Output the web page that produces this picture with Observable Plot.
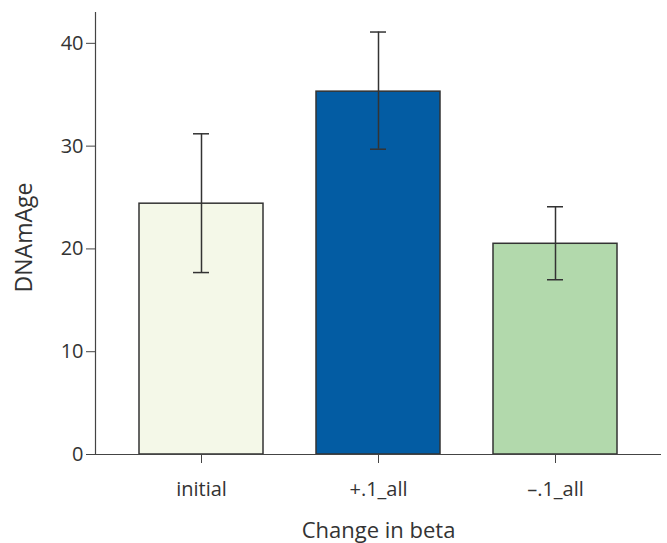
<!DOCTYPE html>
<html>
<head>
<meta charset="utf-8">
<script src="https://cdn.jsdelivr.net/npm/d3@7"></script>
<script src="https://cdn.jsdelivr.net/npm/@observablehq/plot@0.6"></script>
<style>
  html, body { margin: 0; padding: 0; background: #fff; }
  svg { display: block; }
</style>
</head>
<body>
<div id="chart"></div>
<script>
const categories = ["initial", "+.1_all", "\u2013.1_all"];
const means = [24.4, 35.3, 20.5];
const lower = [17.7, 29.7, 17.0];
const upper = [31.2, 41.1, 24.1];
const colors = ["#f4f8e8", "#035ca3", "#b2d9ac"];
const yTicks = [0, 10, 20, 30, 40];

const data = categories.map((c, i) => ({cat: c, mean: means[i], lo: lower[i], hi: upper[i]}));

const font = "'Open Sans', sans-serif";

const chart = Plot.plot({
  width: 667,
  height: 543,
  marginLeft: 95,
  marginRight: 6,
  marginTop: 12,
  marginBottom: 89,
  style: {fontFamily: font, fontSize: "20px", color: "#333", background: "#fff"},
  x: {domain: categories, paddingInner: 0.3, paddingOuter: 0.24, label: null},
  y: {domain: [0, 43], label: null},
  color: {domain: categories, range: colors},
  marks: [
    Plot.barY(data, {x: "cat", y: "mean", fill: "cat", stroke: "#333", strokeWidth: 1.5}),
    Plot.ruleX(data, {x: "cat", y1: "lo", y2: "hi", stroke: "#333", strokeWidth: 1.5}),
    Plot.tickY(data, {x: "cat", y: "lo", stroke: "#333", strokeWidth: 1.5, inset: 54}),
    Plot.tickY(data, {x: "cat", y: "hi", stroke: "#333", strokeWidth: 1.5, inset: 54}),
    Plot.ruleY([0], {stroke: "#444", strokeWidth: 1.2}),
    Plot.frame({anchor: "left", stroke: "#444", strokeWidth: 1.2}),
    Plot.axisY({ticks: yTicks, tickSize: 9, tickPadding: 3, label: null, fontSize: 20, stroke: "#444"}),
    Plot.axisX({tickSize: 9, tickPadding: 18, label: null, fontSize: 20, stroke: "#444"}),
    Plot.text(["DNAmAge"], {frameAnchor: "left", textAnchor: "middle", lineAnchor: "middle", rotate: -90, dx: -71, dy: 4, fontSize: 23, fill: "#333"}),
    Plot.text(["Change in beta"], {frameAnchor: "bottom", textAnchor: "middle", lineAnchor: "middle", dy: 76, fontSize: 22, fill: "#333"})
  ]
});

document.getElementById("chart").appendChild(chart);
</script>
</body>
</html>
